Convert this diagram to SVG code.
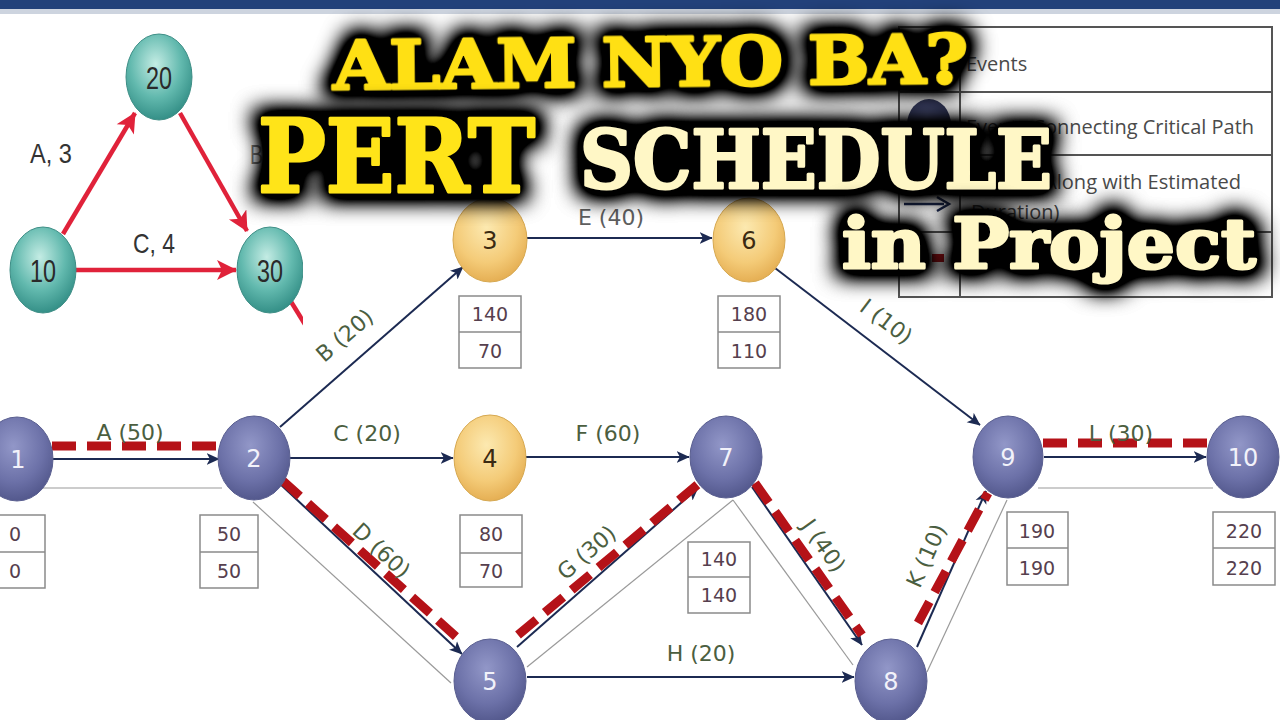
<svg xmlns="http://www.w3.org/2000/svg" width="1280" height="720" viewBox="0 0 1280 720">
<style>
.edge{stroke:#1C2A52;stroke-width:2;fill:none}
.crit{stroke:#B51218;stroke-width:9;stroke-dasharray:24 11;fill:none}
.thin{stroke:#9A9A9A;stroke-width:1.2;fill:none}
.lbl{font-family:"DejaVu Sans",sans-serif;font-size:22px;fill:#4B5E40;text-anchor:middle}
.bnum{font-family:"DejaVu Sans",sans-serif;font-size:24px;fill:#F2F2FA;text-anchor:middle}
.ynum{font-family:"DejaVu Sans",sans-serif;font-size:24px;fill:#3B2A12;text-anchor:middle}
.box{fill:#FFFFFF;stroke:#8A8A8A;stroke-width:1.5}
.btxt{font-family:"DejaVu Sans",sans-serif;font-size:19px;fill:#56404E;text-anchor:middle}
.leg{font-family:"Open Sans","Noto Sans",sans-serif;font-size:20px;fill:#4A4A4A}
.tnum{font-family:"Liberation Sans",sans-serif;font-size:32px;fill:#2A2A2A;text-anchor:middle}
.tlbl{font-family:"Liberation Sans",sans-serif;font-size:28px;fill:#333333}
.red{stroke:#E0223A;stroke-width:4.5;fill:none}
.title{font-family:"DejaVu Serif","Liberation Serif",serif;font-weight:bold;stroke-width:3;stroke-linejoin:round}
</style>
<defs>
<radialGradient id="gBlue" cx="45%" cy="35%" r="70%">
<stop offset="0" stop-color="#9297C8"/><stop offset="0.6" stop-color="#6C71A8"/><stop offset="1" stop-color="#4E5387"/>
</radialGradient>
<radialGradient id="gYel" cx="45%" cy="35%" r="70%">
<stop offset="0" stop-color="#FCE9B0"/><stop offset="0.6" stop-color="#F4CB78"/><stop offset="1" stop-color="#E2A94C"/>
</radialGradient>
<radialGradient id="gTeal" cx="45%" cy="35%" r="70%">
<stop offset="0" stop-color="#C4ECE4"/><stop offset="0.55" stop-color="#62B9AE"/><stop offset="1" stop-color="#2C8880"/>
</radialGradient>
<radialGradient id="gNavy" cx="45%" cy="35%" r="70%">
<stop offset="0" stop-color="#4A5078"/><stop offset="1" stop-color="#23284A"/>
</radialGradient>
<marker id="arr" viewBox="0 0 10 10" refX="9.5" refY="5" markerWidth="13" markerHeight="13" markerUnits="userSpaceOnUse" orient="auto">
<path d="M0,0.5 L10,5 L0,9.5 L2.5,5 Z" fill="#1C2A52"/>
</marker>
<marker id="rarr" viewBox="0 0 10 10" refX="9.5" refY="5" markerWidth="22" markerHeight="20" markerUnits="userSpaceOnUse" orient="auto">
<path d="M0,0 L10,5 L0,10 L2.5,5 Z" fill="#E0223A"/>
</marker>
<clipPath id="insetClip"><rect x="0" y="14" width="303" height="320"/></clipPath>
<filter id="glow" x="-15%" y="-90%" width="130%" height="280%" color-interpolation-filters="sRGB">
<feMorphology in="SourceAlpha" operator="dilate" radius="6" result="d"/>
<feGaussianBlur in="d" stdDeviation="11" result="b"/>
<feComponentTransfer in="b" result="b2"><feFuncA type="linear" slope="2"/></feComponentTransfer>
<feMerge><feMergeNode in="b2"/><feMergeNode in="SourceGraphic"/></feMerge>
</filter>
</defs>

<rect width="1280" height="720" fill="#FFFFFF"/>
<rect x="0" y="0" width="1280" height="9" fill="#22417A"/>
<rect x="0" y="9" width="1280" height="5" fill="#CDD4DF"/>

<!-- connectors -->
<g id="connectors">
<line class="thin" x1="40" y1="488" x2="222" y2="488"/>
<line class="thin" x1="253" y1="502" x2="451" y2="683"/>
<line class="thin" x1="527" y1="667" x2="733" y2="500"/>
<line class="thin" x1="733" y1="500" x2="853" y2="665"/>
<line class="thin" x1="927" y1="672" x2="1007" y2="500"/>
<line class="thin" x1="1038" y1="488" x2="1213" y2="488"/>

<line class="edge" x1="53" y1="459" x2="219" y2="459" marker-end="url(#arr)"/>
<line class="edge" x1="280" y1="427" x2="463" y2="267" marker-end="url(#arr)"/>
<line class="edge" x1="290" y1="458" x2="453" y2="458" marker-end="url(#arr)"/>
<line class="edge" x1="279" y1="483" x2="462" y2="654" marker-end="url(#arr)"/>
<line class="edge" x1="527" y1="238" x2="712" y2="238" marker-end="url(#arr)"/>
<line class="edge" x1="526" y1="457" x2="689" y2="457" marker-end="url(#arr)"/>
<line class="edge" x1="517" y1="647" x2="698" y2="488" marker-end="url(#arr)"/>
<line class="edge" x1="527" y1="677" x2="854" y2="677" marker-end="url(#arr)"/>
<line class="edge" x1="775" y1="268" x2="980" y2="425" marker-end="url(#arr)"/>
<line class="edge" x1="752" y1="487" x2="862" y2="645" marker-end="url(#arr)"/>
<line class="edge" x1="917" y1="647" x2="986" y2="491" marker-end="url(#arr)"/>
<line class="edge" x1="1044" y1="457" x2="1206" y2="457" marker-end="url(#arr)"/>

<line class="crit" x1="52" y1="446" x2="222" y2="446"/>
<line class="crit" x1="282" y1="480" x2="462" y2="642"/>
<line class="crit" x1="518" y1="635" x2="703" y2="480"/>
<line class="crit" x1="755" y1="483" x2="862" y2="635"/>
<line class="crit" x1="918" y1="623" x2="988" y2="493"/>
<line class="crit" x1="1043" y1="443" x2="1212" y2="443"/>

<text class="lbl" x="130" y="440">A (50)</text>
<text class="lbl" transform="translate(345,336) rotate(-41)" y="7">B (20)</text>
<text class="lbl" x="367" y="441">C (20)</text>
<text class="lbl" transform="translate(381,551) rotate(43)" y="7">D (60)</text>
<text class="lbl" x="611" y="225" style="fill:#5E5E5E">E (40)</text>
<text class="lbl" x="608" y="441">F (60)</text>
<text class="lbl" transform="translate(587,553) rotate(-41)" y="7">G (30)</text>
<text class="lbl" x="701" y="661">H (20)</text>
<text class="lbl" transform="translate(886,322) rotate(37)" y="7">I (10)</text>
<text class="lbl" transform="translate(823,546) rotate(55)" y="7">J (40)</text>
<text class="lbl" transform="translate(927,556) rotate(-66)" y="7">K (10)</text>
<text class="lbl" x="1121" y="441">L (30)</text>
</g>

<!-- nodes -->
<g id="node1"><ellipse cx="17" cy="459" rx="36" ry="42" fill="url(#gBlue)" stroke="#5A5F90"/><text class="bnum" x="18" y="468">1</text>
<rect class="box" x="-15" y="515" width="60" height="73"/><line x1="-15" y1="552" x2="45" y2="552" stroke="#8A8A8A" stroke-width="1.5"/>
<text class="btxt" x="15" y="541">0</text><text class="btxt" x="15" y="578">0</text></g>

<g id="node2"><ellipse cx="254" cy="458" rx="36" ry="42" fill="url(#gBlue)" stroke="#5A5F90"/><text class="bnum" x="254" y="467">2</text>
<rect class="box" x="200" y="515" width="58" height="73"/><line x1="200" y1="552" x2="258" y2="552" stroke="#8A8A8A" stroke-width="1.5"/>
<text class="btxt" x="229" y="541">50</text><text class="btxt" x="229" y="578">50</text></g>

<g id="node3"><ellipse cx="490" cy="240" rx="37" ry="42" fill="url(#gYel)" stroke="#D6A850"/><text class="ynum" x="490" y="249">3</text>
<rect class="box" x="459" y="296" width="62" height="72"/><line x1="459" y1="332" x2="521" y2="332" stroke="#8A8A8A" stroke-width="1.5"/>
<text class="btxt" x="490" y="321">140</text><text class="btxt" x="490" y="358">70</text></g>

<g id="node4"><ellipse cx="490" cy="458" rx="36" ry="43" fill="url(#gYel)" stroke="#D6A850"/><text class="ynum" x="490" y="467">4</text>
<rect class="box" x="460" y="515" width="62" height="72"/><line x1="460" y1="553" x2="522" y2="553" stroke="#8A8A8A" stroke-width="1.5"/>
<text class="btxt" x="491" y="541">80</text><text class="btxt" x="491" y="578">70</text></g>

<g id="node5"><ellipse cx="490" cy="681" rx="36" ry="42" fill="url(#gBlue)" stroke="#5A5F90"/><text class="bnum" x="490" y="690">5</text></g>

<g id="node6"><ellipse cx="749" cy="240" rx="36" ry="42" fill="url(#gYel)" stroke="#D6A850"/><text class="ynum" x="749" y="249">6</text>
<rect class="box" x="718" y="296" width="62" height="72"/><line x1="718" y1="332" x2="780" y2="332" stroke="#8A8A8A" stroke-width="1.5"/>
<text class="btxt" x="749" y="321">180</text><text class="btxt" x="749" y="358">110</text></g>

<g id="node7"><ellipse cx="726" cy="457" rx="36" ry="41" fill="url(#gBlue)" stroke="#5A5F90"/><text class="bnum" x="726" y="466">7</text>
<rect class="box" x="688" y="542" width="62" height="71"/><line x1="688" y1="577" x2="750" y2="577" stroke="#8A8A8A" stroke-width="1.5"/>
<text class="btxt" x="719" y="566">140</text><text class="btxt" x="719" y="602">140</text></g>

<g id="node8"><ellipse cx="891" cy="681" rx="36" ry="42" fill="url(#gBlue)" stroke="#5A5F90"/><text class="bnum" x="891" y="690">8</text></g>

<g id="node9"><ellipse cx="1008" cy="457" rx="35" ry="41" fill="url(#gBlue)" stroke="#5A5F90"/><text class="bnum" x="1008" y="466">9</text>
<rect class="box" x="1007" y="512" width="61" height="73"/><line x1="1007" y1="548" x2="1068" y2="548" stroke="#8A8A8A" stroke-width="1.5"/>
<text class="btxt" x="1037" y="538">190</text><text class="btxt" x="1037" y="575">190</text></g>

<g id="node10"><ellipse cx="1243" cy="457" rx="36" ry="41" fill="url(#gBlue)" stroke="#5A5F90"/><text class="bnum" x="1243" y="466">10</text>
<rect class="box" x="1213" y="512" width="62" height="73"/><line x1="1213" y1="548" x2="1275" y2="548" stroke="#8A8A8A" stroke-width="1.5"/>
<text class="btxt" x="1244" y="538">220</text><text class="btxt" x="1244" y="575">220</text></g>

<!-- legend -->
<g id="legend">
<rect x="899" y="27" width="373" height="270" fill="#FFFFFF" stroke="#555555" stroke-width="2"/>
<line x1="960" y1="27" x2="960" y2="297" stroke="#555555" stroke-width="2"/>
<line x1="899" y1="92" x2="1272" y2="92" stroke="#555555" stroke-width="2"/>
<line x1="899" y1="155" x2="1272" y2="155" stroke="#555555" stroke-width="2"/>
<line x1="899" y1="232" x2="1272" y2="232" stroke="#555555" stroke-width="2"/>
<ellipse cx="929" cy="125" rx="22" ry="26" fill="url(#gNavy)"/>
<line x1="904" y1="204" x2="944" y2="204" stroke="#1C2A52" stroke-width="2.5"/>
<path d="M937,197 L949,204 L937,211" fill="none" stroke="#1C2A52" stroke-width="2.5"/>
<line x1="912" y1="258" x2="952" y2="258" stroke="#B51218" stroke-width="8" stroke-dasharray="12 8"/>
<text class="leg" x="966" y="71">Events</text>
<text class="leg" x="966" y="134" textLength="288" lengthAdjust="spacingAndGlyphs">Events Connecting Critical Path</text>
<text class="leg" x="966" y="189" textLength="275" lengthAdjust="spacingAndGlyphs">Activity (Along with Estimated</text>
<text class="leg" x="971" y="219">Duration)</text>
</g>

<!-- inset network -->
<g id="inset" clip-path="url(#insetClip)">
<rect x="0" y="14" width="303" height="320" fill="#FFFFFF"/>
<line class="red" x1="63" y1="234" x2="135" y2="113" marker-end="url(#rarr)"/>
<line class="red" x1="180" y1="113" x2="247" y2="231" marker-end="url(#rarr)"/>
<line class="red" x1="76" y1="270" x2="236" y2="270" marker-end="url(#rarr)"/>
<line class="red" x1="290" y1="300" x2="306" y2="326"/>
<text class="tlbl" x="30" y="163" textLength="42" lengthAdjust="spacingAndGlyphs">A, 3</text>
<text class="tlbl" x="133" y="253" textLength="42" lengthAdjust="spacingAndGlyphs">C, 4</text>
<text class="tlbl" x="250" y="164" textLength="13" lengthAdjust="spacingAndGlyphs" style="fill:#777777">B</text>
<g id="node20"><ellipse cx="159" cy="77" rx="33" ry="43" fill="url(#gTeal)" stroke="#3E8E86"/><text class="tnum" x="159" y="89" textLength="26" lengthAdjust="spacingAndGlyphs">20</text></g>
<g id="node10t"><ellipse cx="43" cy="270" rx="33" ry="43" fill="url(#gTeal)" stroke="#3E8E86"/><text class="tnum" x="43" y="282" textLength="26" lengthAdjust="spacingAndGlyphs">10</text></g>
<g id="node30"><ellipse cx="270" cy="270" rx="33" ry="43" fill="url(#gTeal)" stroke="#3E8E86"/><text class="tnum" x="270" y="282" textLength="26" lengthAdjust="spacingAndGlyphs">30</text></g>
</g>

<!-- title -->
<g id="title">
<text class="title" x="333" y="86" font-size="68" fill="#FFE014" stroke="#FFE014" textLength="635" lengthAdjust="spacingAndGlyphs" filter="url(#glow)" transform="rotate(-0.6 650 60)">ALAM NYO BA?</text>
<text class="title" x="258" y="192" font-size="101" fill="#FFE419" stroke="#FFE419" textLength="277" lengthAdjust="spacingAndGlyphs" filter="url(#glow)">PERT</text>
<text class="title" x="580" y="188" font-size="80" fill="#FFF7C6" stroke="#FFF7C6" textLength="472" lengthAdjust="spacingAndGlyphs" filter="url(#glow)">SCHEDULE</text>
<text class="title" x="842" y="268" font-size="70" fill="#FFF7C6" stroke="#FFF7C6" textLength="414" lengthAdjust="spacingAndGlyphs" filter="url(#glow)">in Project</text>
</g>
</svg>
